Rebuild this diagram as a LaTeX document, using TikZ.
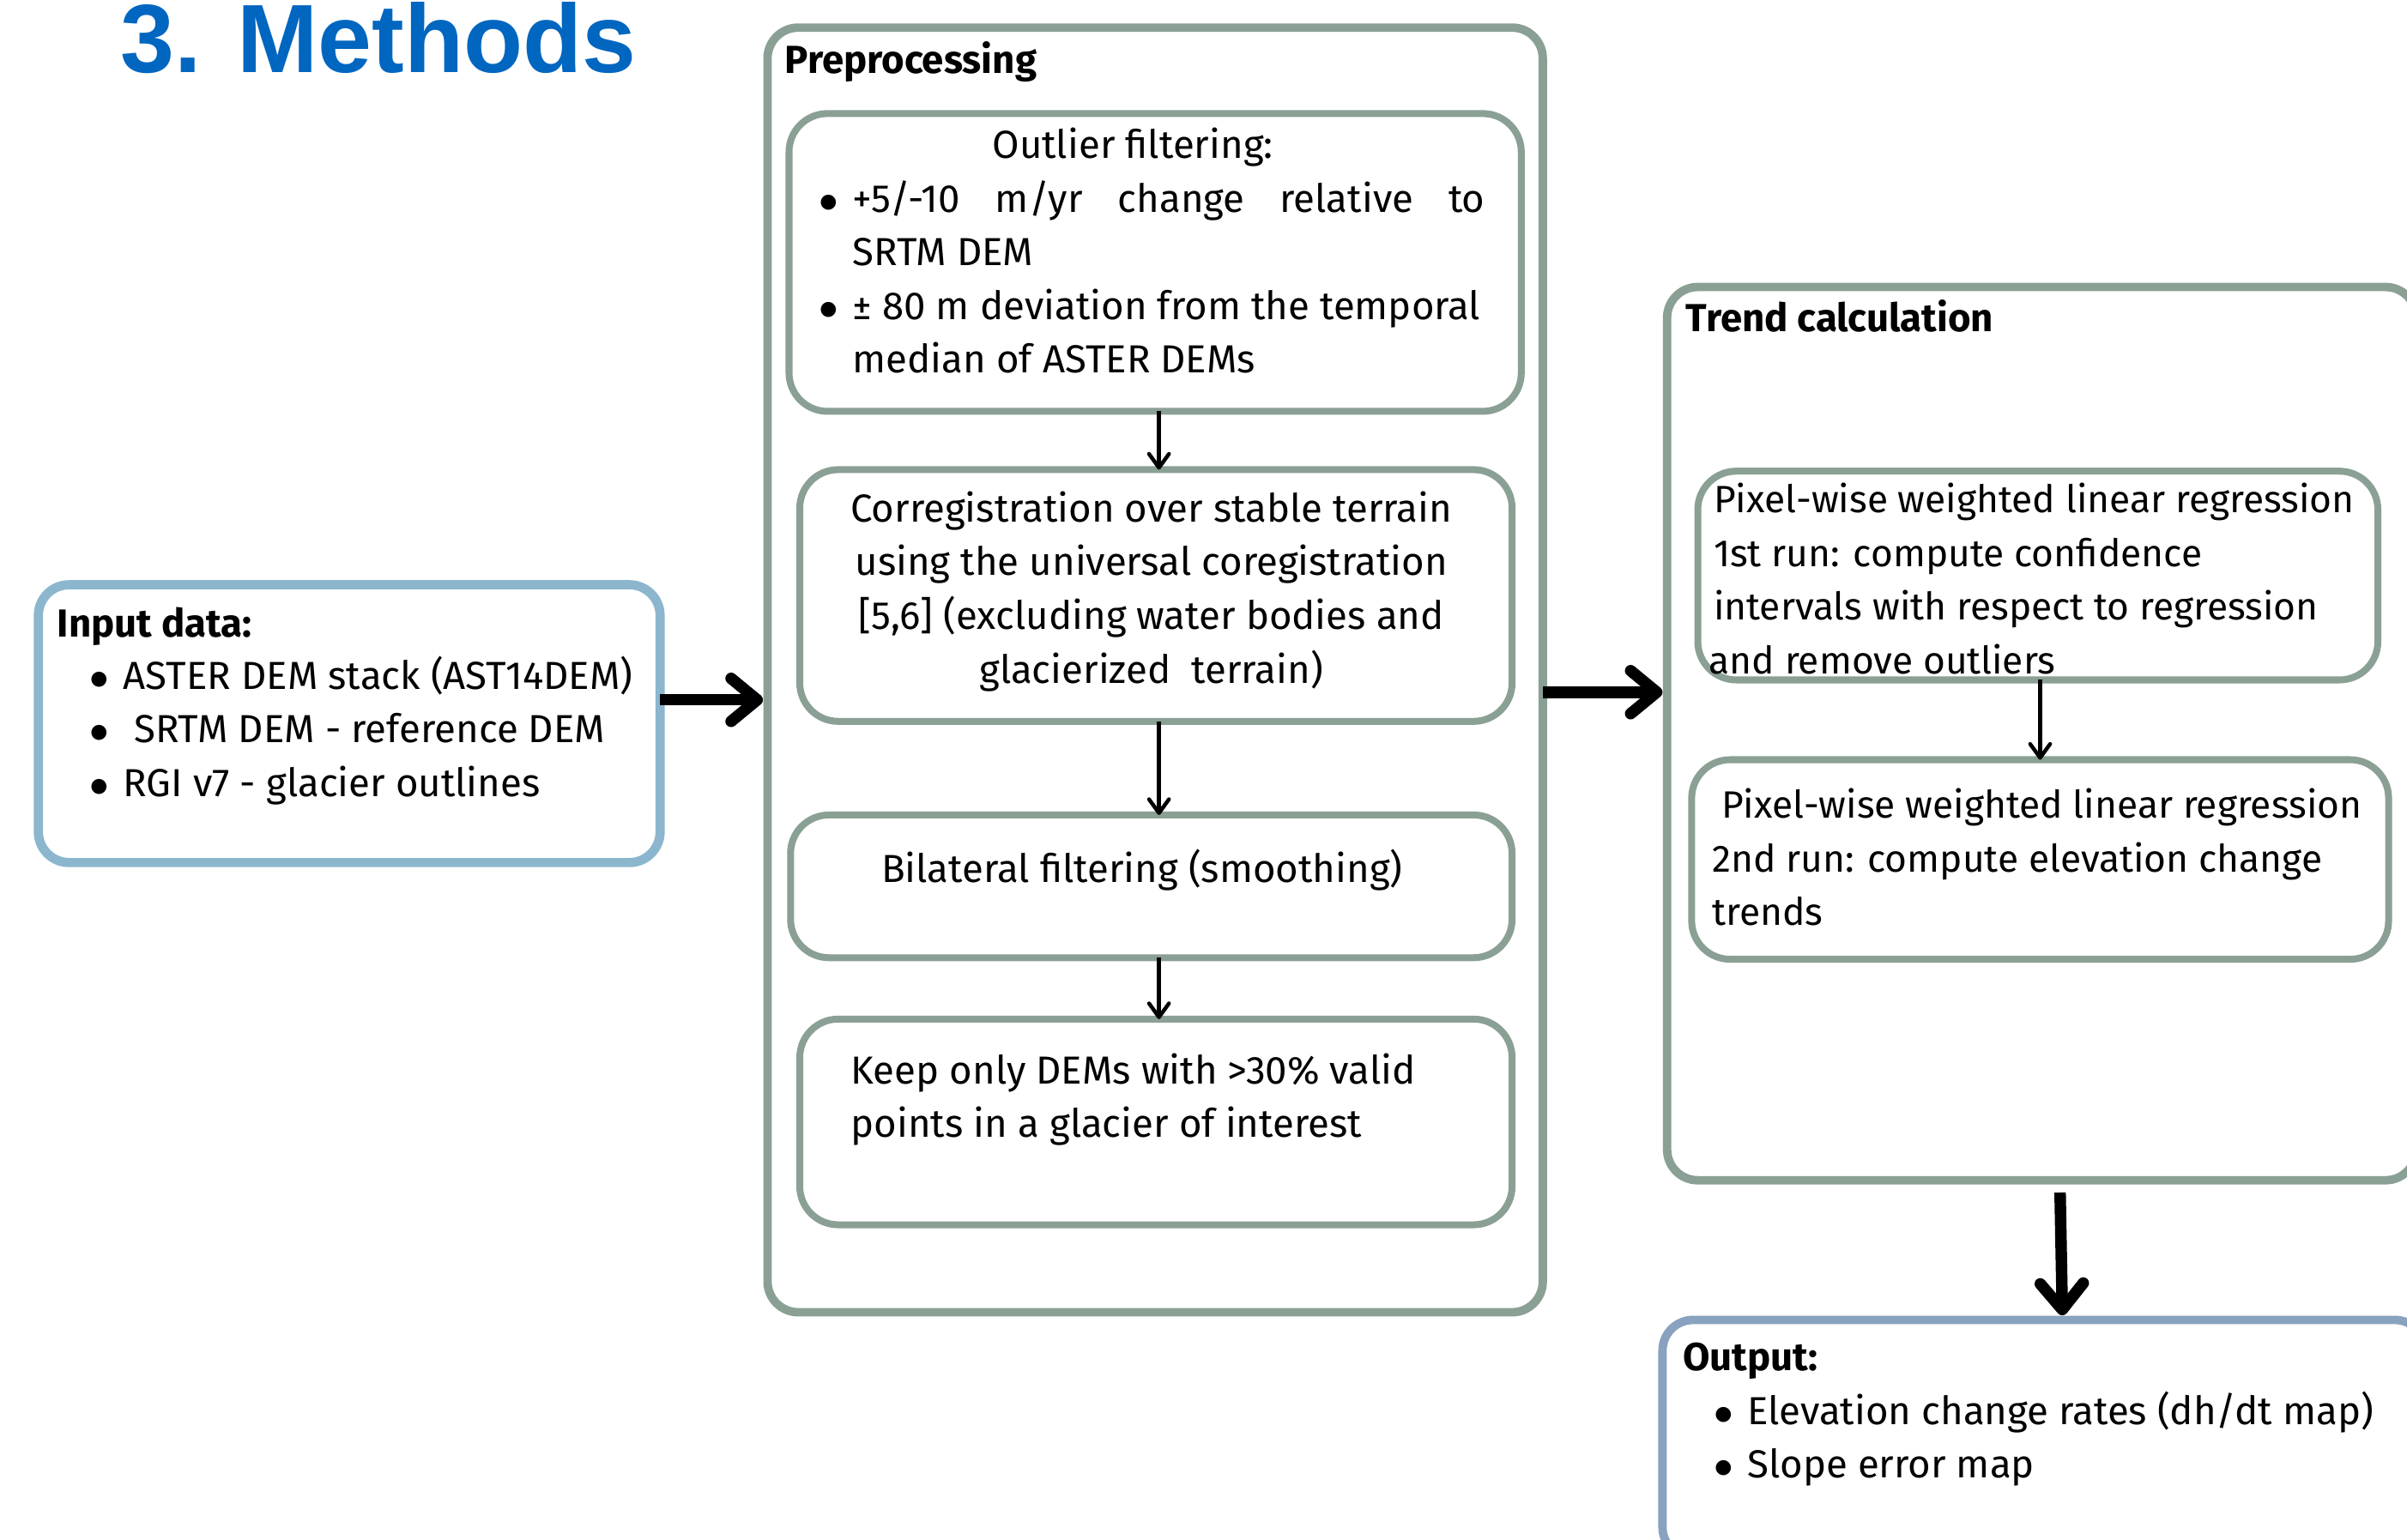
\documentclass[tikz,border=0pt]{standalone}
\usepackage{fontspec}
\setmainfont{Fira Sans}
\newfontfamily\titlefont{Liberation Sans}
\usepackage{tikz}
\usetikzlibrary{arrows.meta}
\usetikzlibrary{positioning}

\definecolor{framegreen}{RGB}{138,160,148}
\definecolor{inblue}{RGB}{139,182,206}
\definecolor{outblue}{RGB}{136,162,191}
\definecolor{titleblue}{RGB}{0,102,192}

\newcommand{\bul}{\makebox[4.4mm][l]{$\bullet$}}
\newcommand{\ind}{\hspace*{4.4mm}}

\tikzset{
  groupbox/.style={draw=framegreen, line width=1.1mm, rounded corners=4mm, inner sep=0pt, outer sep=0pt},
  stepbox/.style={draw=framegreen, line width=0.9mm, rounded corners=5mm, inner sep=0pt, outer sep=0pt},
  databox/.style={line width=1.2mm, rounded corners=4mm, inner sep=0pt, outer sep=0pt},
  txt/.style={inner sep=0pt, align=left, font=\fontsize{14.5}{19.9}\selectfont},
  runtxt/.style={txt, font=\fontsize{14.1}{19.9}\selectfont},
  head/.style={txt, font=\fontsize{14.5}{19.9}\selectfont\bfseries},
  bigarrow/.style={-{Straight Barb[length=3.4mm,width=5.6mm,round]}, line width=1.5mm},
  smallarrow/.style={-{Straight Barb[length=1.8mm,width=2.6mm,round]}, line width=0.5mm}
}

\begin{document}
\begin{tikzpicture}[x=0.2mm, y=-0.2mm]
  \useasboundingbox (0,0) rectangle (1568,1003);

  \node[anchor=base west, inner sep=0pt, text=titleblue,
    font=\titlefont\bfseries\fontsize{36}{40}\selectfont] (title) at (78,47) {3. Methods};

  % input (base = last line)
  \node[databox, draw=inblue, minimum width=81mm, minimum height=36.2mm] (input) at (227.5,471.5) {};
  \node[head, anchor=base west] (inhead) at (37,415) {Input data:};
  \node[txt, anchor=base west] (inlist) at (58,519) {\bul ASTER DEM stack (AST14DEM)\\
    \bul\hspace{1.4mm}SRTM DEM - reference DEM\\
    \bul RGI v7 - glacier outlines};

  % preprocessing
  \node[groupbox, minimum width=101mm, minimum height=167.4mm] (prep) at (752.5,436.5) {};
  \node[head, anchor=base west] (prephead) at (511,48) {Preprocessing};

  \node[stepbox, minimum width=95.4mm, minimum height=38.8mm] (outl) at (752.5,171) {};
  \node[txt, anchor=base] (outlhead) at (738,103) {Outlier filtering:};
  \node[txt, anchor=base west] (outllist) at (533,243) {\bul\makebox[82.4mm][s]{+5/-10 m/yr change relative to}\\
    \ind SRTM DEM\\
    \bul ± 80 m deviation from the temporal\\
    \ind median of ASTER DEMs};

  \node[stepbox, minimum width=92.8mm, minimum height=32.8mm] (corr) at (753,388) {};
  \node[txt, align=center, anchor=base] (corrtxt) at (750,445) {Corregistration over stable terrain\\
    using the universal coregistration\\
    {}[5,6] (excluding water bodies and\\
    glacierized\ \ terrain)};

  \node[stepbox, minimum width=94mm, minimum height=18.6mm] (bilat) at (750,577.5) {};
  \node[txt, anchor=base] (bilattxt) at (744,575) {Bilateral filtering (smoothing)};

  \node[stepbox, minimum width=92.8mm, minimum height=26.8mm] (keep) at (753,731) {};
  \node[txt, anchor=base west] (keeptxt) at (554,741) {Keep only DEMs with >30\% valid\\
    points in a glacier of interest};

  \draw[smallarrow] ([xshift=0.5mm]outl.south) -- ([xshift=0.5mm]outl.south |- corr.north);
  \draw[smallarrow] ([xshift=0.4mm]corr.south) -- ([xshift=0.4mm]corr.south |- bilat.north);
  \draw[smallarrow] ([xshift=0.4mm]corr.south |- bilat.south) -- ([xshift=0.4mm]corr.south |- keep.north);

  % trend calculation
  \node[groupbox, minimum width=97.6mm, minimum height=116.4mm] (trend) at (1330,478) {};
  \node[head, anchor=base west] (trendhead) at (1098,216) {Trend calculation};

  \node[stepbox, minimum width=88.6mm, minimum height=27.2mm] (runone) at (1327.5,375) {};
  \node[runtxt, anchor=base west] (runonetxt) at (1116,439) {Pixel-wise weighted linear regression\\
    1st run: compute confidence\\
    intervals with respect to regression\\
    \hspace*{-0.6mm}and remove outliers};

  \node[stepbox, minimum width=90.8mm, minimum height=26mm] (runtwo) at (1329,560) {};
  \node[runtxt, anchor=base west] (runtwotxt) at (1115,603) {\hspace*{1.2mm}Pixel-wise weighted linear regression\\
    2nd run: compute elevation change\\
    trends};

  \draw[smallarrow] (runone.south -| runtwo.north) -- (runtwo.north);

  % output
  \node[databox, draw=outblue, line width=1.1mm, minimum width=99.4mm, minimum height=31mm] (output) at (1331.5,937.5) {};
  \node[head, anchor=base west] (outhead) at (1096,893) {Output:};
  \node[txt, anchor=base west] (outlist) at (1116,963) {\bul Elevation change rates (dh/dt map)\\
    \bul Slope error map};

  % main flow
  \draw[bigarrow] ([yshift=3.1mm]input.east) -- ([yshift=3.1mm,xshift=-0.6mm]input.east -| prep.west);
  \draw[bigarrow] ([yshift=-2.9mm]prep.east) -- ([yshift=-2.9mm,xshift=-0.6mm]prep.east -| trend.west);
  \draw[bigarrow] ([xshift=2.4mm,yshift=-1.6mm]trend.south) -- ([xshift=2.4mm,yshift=0.6mm]output.north);
\end{tikzpicture}
\end{document}
